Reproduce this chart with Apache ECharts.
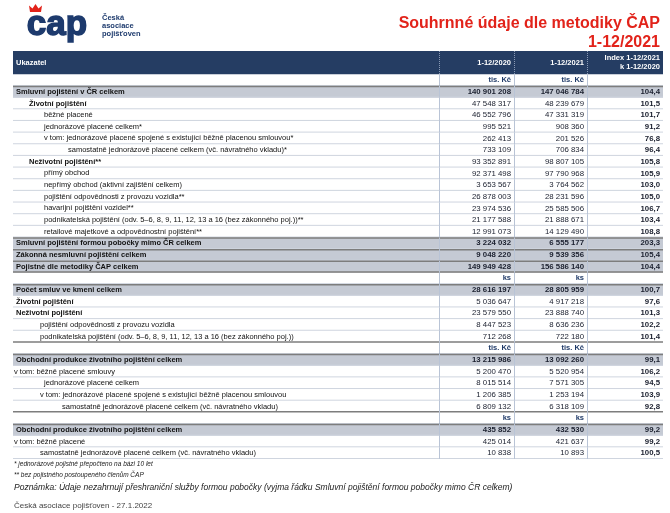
<!DOCTYPE html>
<html>
<head>
<meta charset="utf-8">
<script src="https://cdn.jsdelivr.net/npm/echarts@6/dist/echarts.min.js"></script>
<style>
  html, body { margin: 0; padding: 0; background: #fff; }
  #main { width: 670px; height: 513px; }
</style>
</head>
<body>
<div id="main"></div>
<script>
// hlavička tabulky
const headers = ['Ukazatel', '1-12/2020', '1-12/2021', 'Index 1-12/2021\nk 1-12/2020'];

// řádky tabulky (prázdný popis = řádek s jednotkami)
const labels = [
  '',
  'Smluvní pojištění v ČR celkem',
  'Životní pojištění',
  'běžné placené',
  'jednorázové placené celkem*',
  'v tom: jednorázové placené spojené s existující běžně placenou smlouvou*',
  'samostatně jednorázově placené celkem (vč. návratného vkladu)*',
  'Neživotní pojištění**',
  'přímý obchod',
  'nepřímý obchod (aktivní zajištění celkem)',
  'pojištění odpovědnosti z provozu vozidla**',
  'havarijní pojištění vozidel**',
  'podnikatelská pojištění (odv. 5–6, 8, 9, 11, 12, 13 a 16 (bez zákonného poj.))**',
  'retailové majetkové a odpovědnostní pojištění**',
  'Smluvní pojištění formou pobočky mimo ČR celkem',
  'Zákonná nesmluvní pojištění celkem',
  'Pojistné dle metodiky ČAP celkem',
  '',
  'Počet smluv ve kmeni celkem',
  'Životní pojištění',
  'Neživotní pojištění',
  'pojištění odpovědnosti z provozu vozidla',
  'podnikatelská pojištění (odv. 5–6, 8, 9, 11, 12, 13 a 16 (bez zákonného poj.))',
  '',
  'Obchodní produkce životního pojištění celkem',
  'v tom: běžně placené smlouvy',
  'jednorázové placené celkem',
  'v tom: jednorázové placené spojené s existující běžně placenou smlouvou',
  'samostatně jednorázově placené celkem (vč. návratného vkladu)',
  '',
  'Obchodní produkce životního pojištění celkem',
  'v tom: běžně placené',
  'samostatně jednorázově placené celkem (vč. návratného vkladu)'
];
const units = [
  'tis. Kč', '', '', '', '', '', '', '', '', '', '', '', '', '', '', '', '',
  'ks', '', '', '', '', '',
  'tis. Kč', '', '', '', '', '',
  'ks', '', '', ''
];
const values2020 = [
  null, 140901208, 47548317, 46552796, 995521, 262413, 733109, 93352891, 92371498,
  3653567, 26878003, 23974536, 21177588, 12991073, 3224032, 9048220, 149949428,
  null, 28616197, 5036647, 23579550, 8447523, 712268,
  null, 13215986, 5200470, 8015514, 1206385, 6809132,
  null, 435852, 425014, 10838
];
const values2021 = [
  null, 147046784, 48239679, 47331319, 908360, 201526, 706834, 98807105, 97790968,
  3764562, 28231596, 25585506, 21888671, 14129490, 6555177, 9539356, 156586140,
  null, 28805959, 4917218, 23888740, 8636236, 722180,
  null, 13092260, 5520954, 7571305, 1253194, 6318109,
  null, 432530, 421637, 10893
];
const indexValues = [
  null, 104.4, 101.5, 101.7, 91.2, 76.8, 96.4, 105.8, 105.9,
  103.0, 105.0, 106.7, 103.4, 108.8, 203.3, 105.4, 104.4,
  null, 100.7, 97.6, 101.3, 102.2, 101.4,
  null, 99.1, 106.2, 94.5, 103.9, 92.8,
  null, 99.2, 99.2, 100.5
];
const footnotes = [
  '* jednorázové pojistné přepočteno na bázi 10 let',
  '** bez pojistného postoupeného členům ČAP',
  'Poznámka: Údaje nezahrnují přeshraniční služby formou pobočky (vyjma řádku Smluvní pojištění formou pobočky mimo ČR celkem)'
];
const sourceNote = 'Česká asociace pojišťoven - 27.1.2022';

// styl řádků: u = jednotky, t = součtový (šedý), b = tučný, n = normální
const rowKind = 'utbnnnnbnnnnnnttt' + 'utbbnn' + 'utnnnn' + 'utnn';
// odsazení popisu (px)
const rowIndent = [
  0, 16, 29, 44, 44, 44, 68, 29, 44, 44, 44, 44, 44, 44, 16, 16, 16,
  0, 16, 16, 16, 40, 40,
  0, 16, 14, 44, 40, 62,
  0, 16, 14, 40
];

// rozměry tabulky
const TABLE_LEFT = 13;
const TABLE_RIGHT = 663;
const COLS = [439, 514, 587, 663];
const FONT = '"Liberation Sans", Arial, sans-serif';
const NAVY = '#253d63';

const slots = [];
for (let i = 0; i < labels.length + 2; i++) slots.push(String(i));

function fmt(n) {
  if (n == null) return '';
  return String(n).replace(/\B(?=(\d{3})+(?!\d))/g, ' ');
}
function fmtIdx(n) {
  if (n == null) return '';
  return n.toFixed(1).replace('.', ',');
}

function vLines(top, h) {
  return COLS.slice(0, 3).map(x => ({
    type: 'line',
    shape: { x1: x + 0.5, y1: top, x2: x + 0.5, y2: top + h },
    style: { stroke: '#b9c4d6', lineWidth: 1 }
  }));
}

const headerSeries = {
  type: 'custom',
  silent: true,
  data: [[0, 0]],
  renderItem: function (params, api) {
    const c = api.coord([0, api.value(1)]);
    const h = api.size([0, 1])[1];
    const top = c[1] - h / 2;
    const children = [{
      type: 'rect',
      shape: { x: TABLE_LEFT, y: top, width: TABLE_RIGHT - TABLE_LEFT, height: h * 2 },
      style: { fill: NAVY }
    }];
    COLS.slice(0, 3).forEach(x => children.push({
      type: 'line',
      shape: { x1: x + 0.5, y1: top, x2: x + 0.5, y2: top + h * 2 },
      style: { stroke: '#8a9ab5', lineWidth: 1, lineDash: [1, 1] }
    }));
    children.push({
      type: 'text',
      style: { x: TABLE_LEFT + 3, y: top + h, text: headers[0], fill: '#fff',
        font: 'bold 7.5px ' + FONT, textAlign: 'left', textVerticalAlign: 'middle' }
    });
    for (let k = 1; k < 4; k++) {
      children.push({
        type: 'text',
        style: { x: COLS[k] - 3, y: top + h, text: headers[k], fill: '#fff',
          font: 'bold 7.5px ' + FONT, textAlign: 'right', textVerticalAlign: 'middle',
          lineHeight: 9 }
      });
    }
    return { type: 'group', children: children };
  }
};

const bodySeries = {
  type: 'custom',
  silent: true,
  data: labels.map((l, i) => [0, i + 2]),
  renderItem: function (params, api) {
    const i = params.dataIndex;
    const kind = rowKind[i];
    const c = api.coord([0, api.value(1)]);
    const h = api.size([0, 1])[1];
    const top = c[1] - h / 2;
    const mid = c[1];
    const children = [];

    if (kind === 't') {
      children.push({
        type: 'rect',
        shape: { x: TABLE_LEFT, y: top, width: TABLE_RIGHT - TABLE_LEFT, height: h },
        style: { fill: '#c5cad4' }
      });
    }
    // spodní čára řádku
    const nextUnit = rowKind[i + 1] === 'u';
    children.push({
      type: 'line',
      shape: { x1: TABLE_LEFT, y1: top + h - 0.5, x2: TABLE_RIGHT, y2: top + h - 0.5 },
      style: { stroke: nextUnit ? '#7d7d7d' : '#cfd5df', lineWidth: nextUnit ? 1.5 : 1 }
    });
    if (kind === 't') {
      children.push({
        type: 'line',
        shape: { x1: TABLE_LEFT, y1: top + 0.5, x2: TABLE_RIGHT, y2: top + 0.5 },
        style: { stroke: '#7d7d7d', lineWidth: 1.5 }
      });
    }
    vLines(top, h).forEach(l => children.push(l));

    if (kind === 'u') {
      for (let k = 1; k < 3; k++) {
        children.push({
          type: 'text',
          style: { x: COLS[k] - 3, y: mid, text: units[i], fill: '#1f3a68',
            font: 'bold 7.5px ' + FONT, textAlign: 'right', textVerticalAlign: 'middle' }
        });
      }
    } else {
      const bold = kind === 't' || kind === 'b';
      children.push({
        type: 'text',
        style: { x: TABLE_LEFT + rowIndent[i] - 13, y: mid, text: labels[i], fill: '#111',
          font: (bold ? 'bold ' : '') + '7.5px ' + FONT, textAlign: 'left', textVerticalAlign: 'middle' }
      });
      const vals = [fmt(values2020[i]), fmt(values2021[i]), fmtIdx(indexValues[i])];
      for (let k = 0; k < 3; k++) {
        children.push({
          type: 'text',
          style: { x: COLS[k + 1] - 3, y: mid, text: vals[k], fill: '#1a1f2e',
            font: ((kind === 't' || k === 2) ? 'bold ' : '') + '7.8px ' + FONT,
            textAlign: 'right', textVerticalAlign: 'middle' }
        });
      }
    }
    return { type: 'group', children: children };
  }
};

const chart = echarts.init(document.getElementById('main'));
chart.setOption({
  animation: false,
  grid: { left: 0, right: 0, top: 51, bottom: 54 },
  xAxis: { type: 'value', min: 0, max: 670, show: false },
  yAxis: { type: 'category', inverse: true, data: slots, show: false },
  series: [headerSeries, bodySeries],
  graphic: [
    // logo
    { type: 'text', left: 26, top: 7,
      style: { text: 'cap', fill: '#1d3a6d', font: 'bold 35px ' + FONT,
        stroke: '#1d3a6d', lineWidth: 1.5 } },
    { type: 'polygon',
      shape: { points: [[30, 12], [29, 5.5], [32.5, 8.5], [35.5, 4], [38.5, 8.5], [42, 5.5], [41, 12]] },
      style: { fill: '#e2231a' } },
    { type: 'text', left: 102, top: 14,
      style: { text: 'Česká\nasociace\npojišťoven', fill: '#1d3a6d',
        font: 'bold 7.5px ' + FONT, lineHeight: 8 } },
    // nadpis
    { type: 'text', right: 10, top: 16,
      style: { text: 'Souhrnné údaje dle metodiky ČAP', fill: '#e2231a',
        font: 'bold 16px ' + FONT, textAlign: 'right' } },
    { type: 'text', right: 10, top: 35,
      style: { text: '1-12/2021', fill: '#e2231a',
        font: 'bold 16px ' + FONT, textAlign: 'right' } },
    // poznámky
    { type: 'text', left: 14, top: 461,
      style: { text: footnotes[0], fill: '#222', font: 'italic 6.5px ' + FONT } },
    { type: 'text', left: 14, top: 472,
      style: { text: footnotes[1], fill: '#222', font: 'italic 6.5px ' + FONT } },
    { type: 'text', left: 14, top: 483,
      style: { text: footnotes[2], fill: '#222', font: 'italic 8.5px ' + FONT } },
    { type: 'text', left: 14, top: 502,
      style: { text: sourceNote, fill: '#444', font: '8px ' + FONT } }
  ]
});
</script>
</body>
</html>
